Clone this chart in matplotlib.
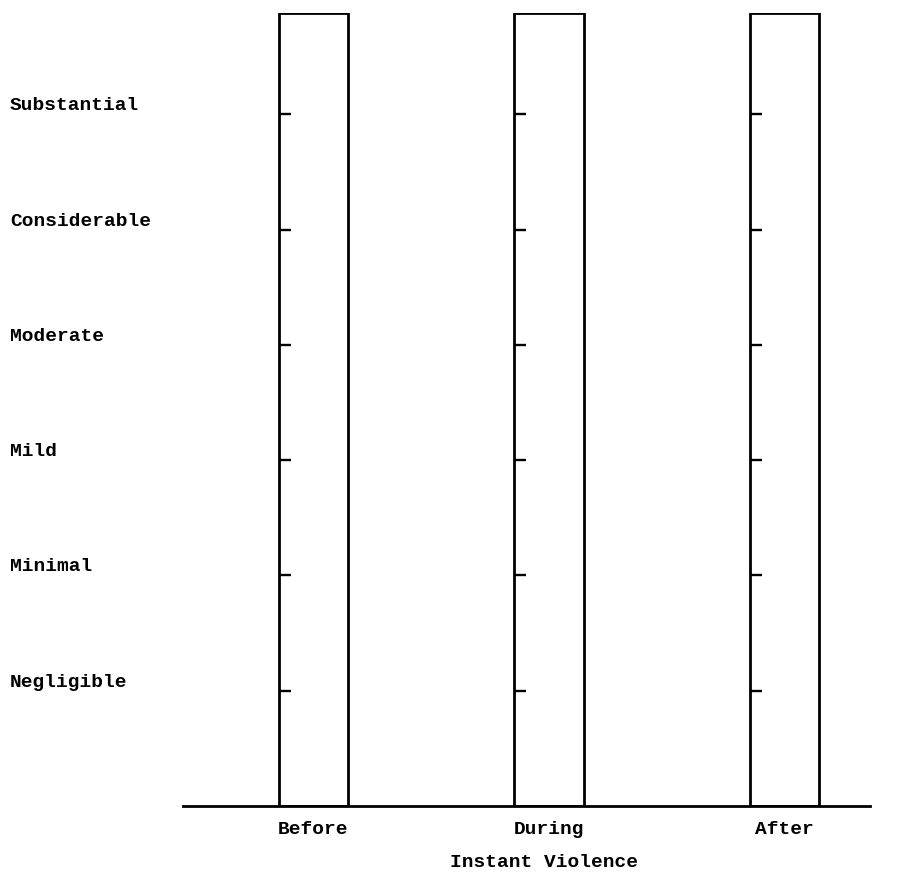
import matplotlib
matplotlib.use("Agg")
import matplotlib.pyplot as plt
from matplotlib.transforms import blended_transform_factory

# Data
categories = ["Before", "During", "After"]
level_labels = ["Negligible", "Minimal", "Mild", "Moderate", "Considerable", "Substantial"]
level_values = [1, 2, 3, 4, 5, 6]
scale_top = 6.88  # height of each empty column frame

FONT = dict(family="Liberation Mono", weight="bold", size=14)

fig = plt.figure(figsize=(9, 8.75), dpi=100)
ax = fig.add_axes([183 / 900, 69 / 875, (870 - 183) / 900, (862 - 69) / 875])

x = list(range(len(categories)))
bar_w = 0.297
ax.bar(x, [scale_top] * len(x), width=bar_w, fill=False, edgecolor="black",
       linewidth=2.0, align="center", zorder=3)

# small ticks on the left edge of each column
tick_len = 0.052
for xi in x:
    left = xi - bar_w / 2
    ax.hlines(level_values, left, left + tick_len, colors="black", linewidth=1.7, zorder=3)

ax.set_xlim(-0.554, 2.363)
ax.set_ylim(0, scale_top)

for s in ["top", "right", "left"]:
    ax.spines[s].set_visible(False)
ax.spines["bottom"].set_linewidth(2.0)

ax.set_yticks([])
ax.set_xticks(x)
ax.set_xticklabels(categories, fontdict=FONT)
ax.tick_params(axis="x", length=0, pad=11)
ax.set_xlabel("Instant Violence", fontdict=FONT, labelpad=11)
ax.xaxis.label.set_x((544 - 183) / 687)

trans = blended_transform_factory(fig.transFigure, ax.transData)
for lbl, v in zip(level_labels, level_values):
    ax.text(10 / 900, v + 0.035, lbl, transform=trans, ha="left", va="baseline",
            clip_on=False, **FONT)

fig.savefig("out.png", dpi=100)
